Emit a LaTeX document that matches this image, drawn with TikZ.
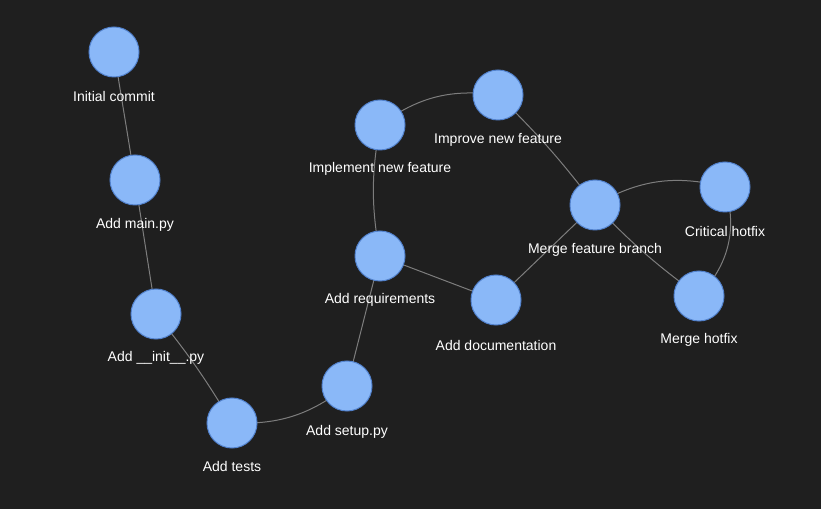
\documentclass[tikz,border=0pt]{standalone}
\usepackage{fontspec}
\setmainfont{Liberation Sans}
\definecolor{bg}{RGB}{31,31,31}
\definecolor{nodefill}{RGB}{138,184,248}
\definecolor{nodeedge}{RGB}{82,130,205}
\definecolor{edgecol}{RGB}{125,125,125}
\begin{document}
\begin{tikzpicture}[x=0.75pt,y=0.75pt,
  commit/.style={circle, fill=nodefill, draw=nodeedge, line width=0.75pt, minimum size=37.5pt, inner sep=0pt},
  lbl/.style={text=white, font=\fontsize{10.5pt}{12pt}\selectfont, inner sep=0pt, anchor=center},
  link/.style={draw=edgecol, line width=0.75pt}]
\fill[bg] (0,0) rectangle (821,-509);
\useasboundingbox (0,0) rectangle (821,-509);
% centres
\coordinate (c1) at (114,-52);
\coordinate (c2) at (135,-180);
\coordinate (c3) at (156,-314);
\coordinate (c4) at (232,-423);
\coordinate (c5) at (347,-386);
\coordinate (c6) at (380,-256);
\coordinate (c7) at (380,-125);
\coordinate (c8) at (498,-95);
\coordinate (c9) at (595,-205);
\coordinate (c10) at (496,-300);
\coordinate (c11) at (725,-187);
\coordinate (c12) at (699,-296);
% links (under the nodes)
\draw[link] (c1) -- (c2);
\draw[link] (c2) -- (c3);
\draw[link] (c3) to[bend left=4] (c4);
\draw[link] (c4) to[bend right=20] (c5);
\draw[link] (c5) -- (c6);
\draw[link] (c6) to[bend left=10] (c7);
\draw[link] (c7) to[bend left=22] (c8);
\draw[link] (c8) to[bend left=4] (c9);
\draw[link] (c6) -- (c10);
\draw[link] (c10) -- (c9);
\draw[link] (c9) to[bend left=22] (c11);
\draw[link] (c9) to[bend right=5] (c12);
\draw[link] (c11) to[bend left=30] (c12);
% nodes
\node[commit] (n1) at (c1) {};
\node[commit] (n2) at (c2) {};
\node[commit] (n3) at (c3) {};
\node[commit] (n4) at (c4) {};
\node[commit] (n5) at (c5) {};
\node[commit] (n6) at (c6) {};
\node[commit] (n7) at (c7) {};
\node[commit] (n8) at (c8) {};
\node[commit] (n9) at (c9) {};
\node[commit] (n10) at (c10) {};
\node[commit] (n11) at (c11) {};
\node[commit] (n12) at (c12) {};
% labels
\node[lbl] (l1) at ([shift={(0,-45)}]c1) {Initial commit};
\node[lbl] (l2) at ([shift={(0,-45)}]c2) {Add main.py};
\node[lbl] (l3) at ([shift={(0,-44)}]c3) {Add \_\_init\_\_.py};
\node[lbl] (l4) at ([shift={(0,-43)}]c4) {Add tests};
\node[lbl] (l5) at ([shift={(0,-46)}]c5) {Add setup.py};
\node[lbl] (l6) at ([shift={(0,-44)}]c6) {Add requirements};
\node[lbl] (l7) at ([shift={(0,-44)}]c7) {Implement new feature};
\node[lbl] (l8) at ([shift={(0,-45)}]c8) {Improve new feature};
\node[lbl] (l9) at ([shift={(0,-45)}]c9) {Merge feature branch};
\node[lbl] (l10) at ([shift={(0,-45)}]c10) {Add documentation};
\node[lbl] (l11) at ([shift={(0,-44)}]c11) {Critical hotfix};
\node[lbl] (l12) at ([shift={(0,-44)}]c12) {Merge hotfix};
\end{tikzpicture}
\end{document}
